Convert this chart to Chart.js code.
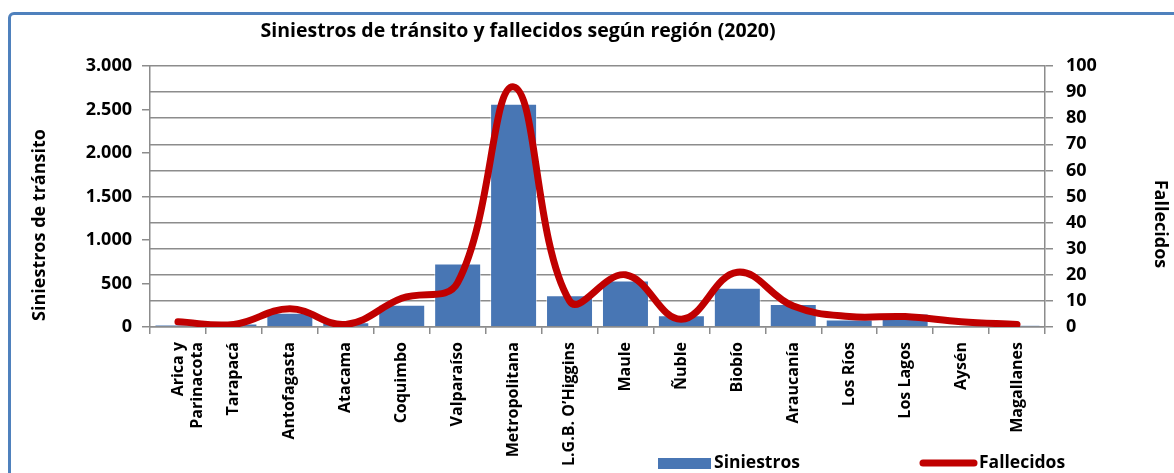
<!DOCTYPE html>
<html><head><meta charset="utf-8">
<script src="https://cdn.jsdelivr.net/npm/chart.js@4.4.1/dist/chart.umd.min.js"></script>
<style>
html,body{margin:0;padding:0;background:#fff;overflow:hidden;}
#wrap{position:relative;width:1174px;height:473px;overflow:hidden;}
#frame{position:absolute;left:8px;top:12px;width:1220px;height:520px;border:3px solid #4F81BD;border-radius:6px;box-sizing:border-box;}
canvas{position:absolute;left:0;top:0;}
</style></head><body>
<div id="wrap"><div id="frame"></div><canvas id="c" width="1174" height="473"></canvas></div>
<script>
const chartTitle = 'Siniestros de tránsito y fallecidos según región (2020)';
const leftAxisTitle = 'Siniestros de tránsito';
const rightAxisTitle = 'Fallecidos';
const categories = [['Arica y','Parinacota'],'Tarapacá','Antofagasta','Atacama','Coquimbo','Valparaíso','Metropolitana','L.G.B. O’Higgins','Maule','Ñuble','Biobío','Araucanía','Los Ríos','Los Lagos','Aysén','Magallanes'];
const siniestros = [25,40,165,55,255,730,2565,365,535,135,450,265,85,155,15,20];
const fallecidos = [2,1,7,1,11,17,92,10,20,3,21,8,4,4,2,1];
const siniestrosTicks = [0,500,1000,1500,2000,2500,3000];
const fallecidosTicks = [0,10,20,30,40,50,60,70,80,90,100];

const FONT = '"Open Sans"';
const BAR = '#4876B4';
const RED = '#C00000';
const GRID = '#8C8C8C';

function fmt(v){ return String(v).replace(/\B(?=(\d{3})+(?!\d))/g,'.'); }

const decor = {
  id:'decor',
  afterDraw(chart){
    const ctx = chart.ctx;
    ctx.save();
    ctx.fillStyle = '#000';
    ctx.textBaseline = 'middle';
    ctx.font = `bold 19.5px ${FONT}`;
    ctx.textAlign = 'center';
    ctx.fillText(chartTitle, 518, 31);
    ctx.font = `bold 18px ${FONT}`;
    ctx.save();
    ctx.translate(40, 225); ctx.rotate(-Math.PI/2);
    ctx.fillText(leftAxisTitle, 0, 0);
    ctx.restore();
    ctx.save();
    ctx.translate(1160, 224); ctx.rotate(Math.PI/2);
    ctx.fillText(rightAxisTitle, 0, 0);
    ctx.restore();
    // legend
    const ds = chart.data.datasets;
    ctx.font = `bold 17.5px ${FONT}`;
    ctx.textAlign = 'left';
    ctx.fillStyle = BAR;
    ctx.fillRect(658, 458, 53, 11);
    ctx.fillStyle = '#000';
    ctx.fillText(ds[1].label, 714, 463);
    ctx.strokeStyle = RED; ctx.lineWidth = 7; ctx.lineCap = 'round';
    ctx.beginPath(); ctx.moveTo(923, 463); ctx.lineTo(974, 463); ctx.stroke();
    ctx.fillText(ds[0].label, 979, 463);
    ctx.restore();
  }
};

new Chart(document.getElementById('c'), {
  data: {
    labels: categories,
    datasets: [
      { type:'line', label:'Fallecidos', data:fallecidos, yAxisID:'y2', borderColor:RED, borderWidth:7,
        pointRadius:0, tension:0.4, borderCapStyle:'round', borderJoinStyle:'round', fill:false, order:0 },
      { type:'bar', label:'Siniestros', data:siniestros, yAxisID:'y', backgroundColor:BAR,
        borderColor:'rgba(255,255,255,0.5)', borderWidth:1, barPercentage:0.84, categoryPercentage:1, order:1 }
    ]
  },
  options: {
    responsive:false, animation:false,
    layout:{ padding:{ top:66, bottom:0, left:0, right:0 } },
    plugins:{ legend:{display:false}, title:{display:false}, tooltip:{enabled:false} },
    scales:{
      x:{
        position:'bottom',
        grid:{ offset:true, drawOnChartArea:false, drawTicks:true, tickLength:7, color:GRID, lineWidth:1.5 },
        border:{ display:true, color:GRID, width:1.5 },
        ticks:{ maxRotation:90, minRotation:90, autoSkip:false, padding:8, color:'#000', font:{family:FONT, weight:'bold', size:16} },
        afterFit(s){ s.height = 146; }
      },
      y:{
        position:'left', min:0, max:3000,
        afterBuildTicks(s){ s.ticks = siniestrosTicks.map(v=>({value:v})); },
        grid:{ drawOnChartArea:false, drawTicks:true, tickLength:8, color:GRID, lineWidth:1.5 },
        border:{ display:true, color:GRID, width:1.5 },
        ticks:{ padding:10, color:'#000', callback:(v)=>fmt(v), font:{family:FONT, weight:'bold', size:18} },
        afterFit(s){ s.width = 150; }
      },
      y2:{
        position:'right', min:0, max:100,
        afterBuildTicks(s){ s.ticks = fallecidosTicks.map(v=>({value:v})); },
        grid:{ drawOnChartArea:true, drawTicks:true, tickLength:8, color:GRID, lineWidth:1.5 },
        border:{ display:true, color:GRID, width:1.5 },
        ticks:{ padding:13, color:'#000', font:{family:FONT, weight:'bold', size:18} },
        afterFit(s){ s.width = 129; }
      }
    }
  },
  plugins:[decor]
});
</script>
</body></html>
